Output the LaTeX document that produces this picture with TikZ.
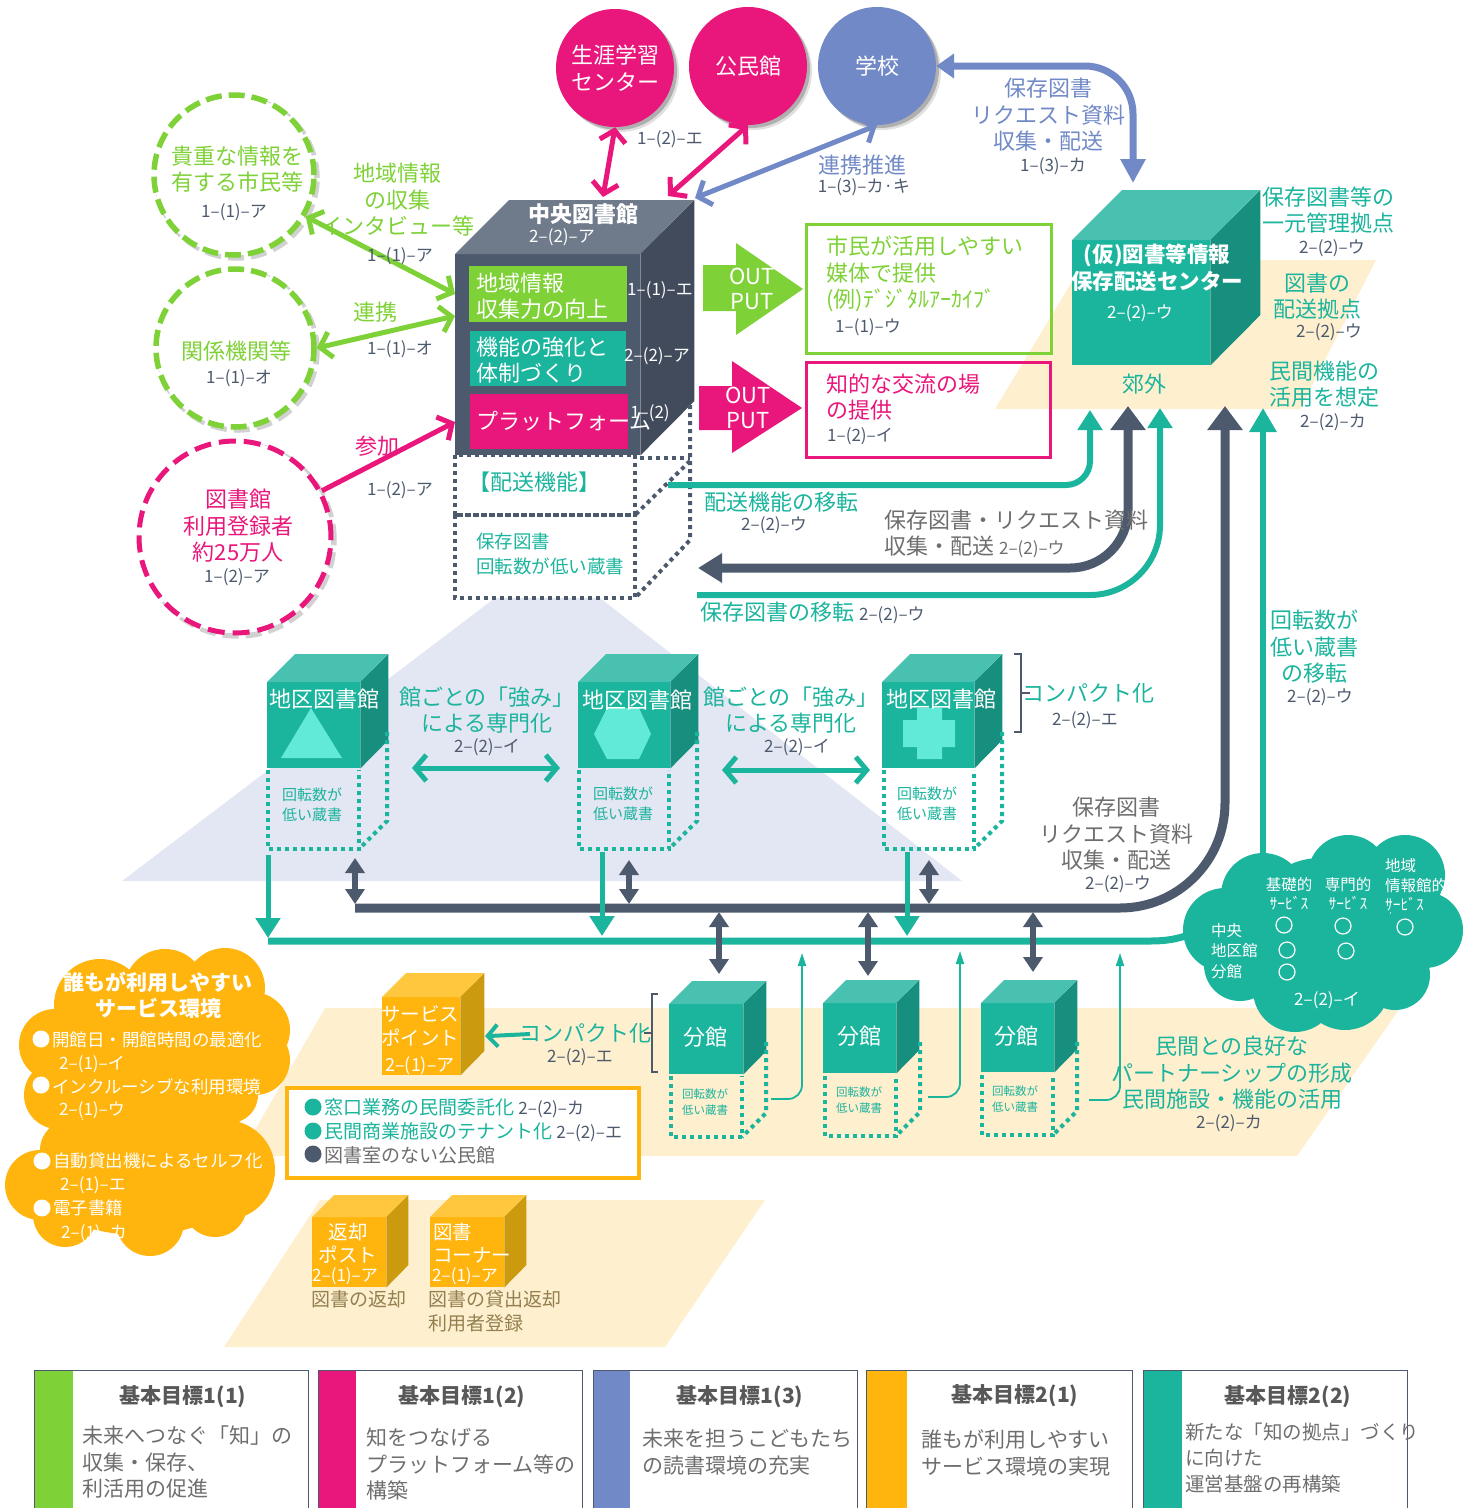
\documentclass[tikz,border=0pt]{standalone}
\usepackage{fontspec}
\setmainfont{Noto Sans CJK JP}
\usetikzlibrary{arrows.meta,shadows,calc}
\definecolor{mg}{HTML}{E9177B}
\definecolor{gr}{HTML}{7ED136}
\definecolor{bl}{HTML}{7189C6}
\definecolor{te}{HTML}{1BB49D}
\definecolor{tetop}{HTML}{48C1B0}
\definecolor{teside}{HTML}{168F7E}
\definecolor{sl}{HTML}{4D5A6E}
\definecolor{sltop}{HTML}{6F7A8A}
\definecolor{slside}{HTML}{414B5B}
\definecolor{ye}{HTML}{FFB50D}
\definecolor{yetop}{HTML}{FFC73E}
\definecolor{yeside}{HTML}{CC9A0E}
\definecolor{pe}{HTML}{FEEFCF}
\definecolor{lav}{HTML}{E3E6F3}
\definecolor{mint}{HTML}{60EAD7}
\definecolor{tgr}{HTML}{6E6E6E}
\definecolor{brn}{HTML}{94804F}
\newcommand\fsz[2]{\fontsize{#1}{#2}\selectfont}
\tikzset{
  tx/.style={inner sep=0pt,align=center},
  big/.style={tx,font=\fsz{22}{26.5}},
  mid/.style={tx,font=\fsz{20}{26}},
  ref/.style={tx,font=\fsz{17}{20},text=sl},
  lft/.style={anchor=west,align=left},
  softshadow/.style={general shadow={shadow xshift=5pt,shadow yshift=-5pt,fill=black,opacity=.12},
                     general shadow={shadow xshift=3pt,shadow yshift=-3pt,fill=black,opacity=.22}},
  solidc/.style={circle,inner sep=0pt,text=white,align=center,font=\fsz{22}{26.5},softshadow},
  dashc/.style={circle,inner sep=0pt,align=center,fill=white,line width=5.5pt,
     general shadow={shadow xshift=3pt,shadow yshift=-3pt,fill=none,draw=black,opacity=.18,line width=5.5pt,dash pattern=on 16pt off 7pt},
     dash pattern=on 16pt off 7pt},
  dbl/.style={line width=5pt,{Straight Barb[length=11pt,width=26pt]}-{Straight Barb[length=11pt,width=26pt]}},
  sgl/.style={line width=5pt,-{Straight Barb[length=11pt,width=26pt]}},
  sldbl/.style={line width=6pt,draw=sl,{Triangle[length=15pt,width=19pt]}-{Triangle[length=15pt,width=19pt]}},
  tedown/.style={line width=5pt,draw=te,-{Triangle[length=20pt,width=24pt]}},
  thinup/.style={line width=1.8pt,draw=te,-{Triangle[length=13pt,width=8pt]},rounded corners=14pt},
  dots/.style={line width=4pt,dash pattern=on 4pt off 4pt},
  legend/.style={draw=sl,line width=1pt},
  ltitle/.style={tx,font=\bfseries\fsz{21}{26},text=tgr!80!black},
  lbody/.style={tx,lft,font=\fsz{21}{26.6},text=tgr},
}
\newcommand\cube[9]{%
  \node[rectangle,fill=#7,inner sep=0pt,minimum width=#4pt,minimum height=#5pt,anchor=north west] (#1) at (#2,#3) {};
  \fill[#8] (#1.north west) -- ++(#6,-#6) -- ++(#4,0) -- (#1.north east) -- cycle;
  \fill[#9] (#1.north east) -- ++(#6,-#6) -- ++(0,#5) -- (#1.south east) -- cycle;
}
% x, top y, w, bottom y, depth, side-start y
\newcommand\dotfr[7]{%
  \draw[dots,draw=#7] (#1,#2) -- (#1,#4) -- (#1+#3,#4) -- (#1+#3,#2);
  \draw[dots,draw=#7] (#1+#3+#5,#6) -- (#1+#3+#5,#4-#5) -- (#1+#3,#4);
}
\begin{document}
\begin{tikzpicture}[x=1pt,y=-1pt]
\useasboundingbox (0,0) rectangle (1475,1508);
% ---- ground shapes
\fill[lav] (122,881) -- (962,881) -- (600,598) -- (495,598) -- cycle;
\fill[pe] (995,409) -- (1085,260) -- (1376,260) -- (1300,409) -- cycle;
\fill[pe] (325,1008) -- (1400,1008) -- (1297,1156) -- (240,1156) -- cycle;
\fill[pe] (320,1200) -- (765,1200) -- (665,1347) -- (224,1347) -- cycle;

% ---- top circles
\node[solidc,fill=mg,minimum size=118pt] (lifelong) at (615,68) {生涯学習\\センター};
\node[solidc,fill=mg,minimum size=118pt] (kominkan) at (748,66) {公民館};
\node[solidc,fill=bl,minimum size=118pt] (school) at (877,66) {学校};

% ---- dashed circles
\node[dashc,draw=gr,minimum size=160pt] (citizen) at (234,175) {};
\node[big,text=gr] (citizenT) at (237,169) {貴重な情報を\\有する市民等};
\node[ref] (citizenR) at (234,212) {1–(1)–ア};
\node[dashc,draw=gr,minimum size=158pt] (agency) at (235,348) {};
\node[big,text=gr] (agencyT) at (236,351) {関係機関等};
\node[ref] (agencyR) at (239,378) {1–(1)–オ};
\node[dashc,draw=mg,line width=5pt,minimum size=192pt,dash pattern=on 17pt off 8pt] (users) at (235,537) {};
\node[big,text=mg] (usersT) at (238,526) {図書館\\利用登録者\\約25万人};
\node[ref] (usersR) at (237,577) {1–(2)–ア};

% ---- central library
\cube{central}{455}{254}{185}{201}{54}{sl}{sltop}{slside}
\node[rectangle,fill=gr,anchor=north west,minimum width=158pt,minimum height=56pt,inner sep=0pt] (fn1) at (469,266) {};
\node[rectangle,fill=te,anchor=north west,minimum width=156pt,minimum height=55pt,inner sep=0pt] (fn2) at (470,331) {};
\node[rectangle,fill=mg,anchor=north west,minimum width=158pt,minimum height=55pt,inner sep=0pt] (fn3) at (470,394) {};
\node[tx,font=\bfseries\fsz{22}{26},text=white] (centralT) at (583,214) {中央図書館};
\node[tx,font=\fsz{17}{20},text=white] (centralR) at (562,237) {2–(2)–ア};
\node[big,lft,text=white] (fn1T) at (476,296) {地域情報\\収集力の向上};
\node[big,lft,text=white] (fn2T) at (476,360) {機能の強化と\\体制づくり};
\node[big,lft,text=white] (fn3T) at (476,421) {プラットフォーム};
\node[tx,font=\fsz{17}{20},text=white] (fn1R) at (660,290) {1–(1)–エ};
\node[tx,font=\fsz{17}{20},text=white] (fn2R) at (657,356) {2–(2)–ア};
\node[tx,font=\fsz{17}{20},text=white] (fn3R) at (650,413) {1–(2)};

% dotted storage under central
\draw[dots,draw=sl] (455,455) rectangle (635,515);
\draw[dots,draw=sl] (455,515) rectangle (635,598);
\draw[dots,draw=sl] (640,458) -- (690,458);
\draw[dots,draw=sl] (690,405) -- (690,540) -- (635,598);
\draw[dots,draw=sl] (690,461) -- (635,515);
\node[big,anchor=west,text=te] (deliv) at (468,482) {【配送機能】};
\node[tx,lft,font=\fsz{18.5}{24.5},text=te] (stored) at (476,554) {保存図書\\回転数が低い蔵書};

% ---- arrows of the left side and top
\coordinate (inA) at (455,294);
\coordinate (inB) at (455,316);
\coordinate (inC) at (455,422);
\coordinate (inD) at (603,197);
\coordinate (inE) at (668,196);
\coordinate (inF) at (695,198);
\draw[dbl,draw=gr] (citizen.-30) -- (inA);
\draw[dbl,draw=gr] (agency.0) -- (inB);
\draw[sgl,draw=mg] (users.28) -- (inC);
\draw[dbl,draw=mg] (lifelong.south) -- (inD);
\draw[dbl,draw=mg] (kominkan.south) -- (inE);
\draw[dbl,draw=bl] (school.south) -- (inF);

\node[big,text=gr] (t1) at (397,200) {地域情報\\の収集\\インタビュー等};
\node[ref] (t2) at (400,256) {1–(1)–ア};
\node[big,text=gr] (t3) at (375,312) {連携};
\node[ref] (t4) at (400,349) {1–(1)–オ};
\node[big,text=mg] (t5) at (377,446) {参加};
\node[ref] (t6) at (400,490) {1–(2)–ア};
\node[ref] (t7) at (670,139) {1–(2)–エ};
\node[big,text=bl] (t8) at (862,165) {連携推進};
\node[ref] (t9) at (864,187) {1–(3)–カ·キ};
\node[big,text=bl] (t10) at (1048,115) {保存図書\\リクエスト資料\\収集・配送};
\node[ref] (t11) at (1053,166) {1–(3)–カ};

% ---- outputs
\coordinate (og) at (703,265);
\fill[gr] (703,265) -- (736,265) -- (736,243) -- (803,289) -- (736,335) -- (736,311) -- (703,311) -- cycle;
\node[tx,font=\fsz{22}{25},text=white] (ogT) at (752,289) {OUT\\PUT};
\fill[mg] (699,386) -- (732,386) -- (732,361) -- (802,408) -- (732,453) -- (732,430) -- (699,430) -- cycle;
\node[tx,font=\fsz{22}{25},text=white] (omT) at (748,408) {OUT\\PUT};
\node[rectangle,draw=gr,line width=3pt,anchor=north west,minimum width=245pt,minimum height=129pt,inner sep=0pt] (outG) at (805,223) {};
\node[rectangle,draw=mg,line width=3pt,anchor=north west,minimum width=244pt,minimum height=95pt,inner sep=0pt] (outM) at (805,361) {};
\node[big,lft,text=gr] (outGT) at (826,274) {市民が活用しやすい\\媒体で提供\\(例)ﾃﾞｼﾞﾀﾙｱｰｶｲﾌﾞ};
\node[ref,anchor=west] (outGR) at (835,327) {1–(1)–ウ};
\node[big,lft,text=mg] (outMT) at (826,397) {知的な交流の場\\の提供};
\node[ref,anchor=west] (outMR) at (827,436) {1–(2)–イ};

% ---- storage centre
\cube{center}{1072}{240}{138}{125}{50}{te}{tetop}{teside}
\node[tx,font=\bfseries\fsz{21.5}{27},text=white] (centerT) at (1157,268) {(仮)図書等情報\\保存配送センター};
\node[tx,font=\fsz{17}{20},text=white] (centerR) at (1140,313) {2–(2)–ウ};
\node[big,text=te] (sub) at (1144,384) {郊外};
\node[big,text=te] (r1) at (1328,210) {保存図書等の\\一元管理拠点};
\node[ref] (r2) at (1332,248) {2–(2)–ウ};
\node[big,text=te] (r3) at (1317,296) {図書の\\配送拠点};
\node[ref] (r4) at (1329,332) {2–(2)–ウ};
\node[big,text=te] (r5) at (1324,384) {民間機能の\\活用を想定};
\node[ref] (r6) at (1333,422) {2–(2)–カ};

% ---- blue link school <-> centre
\coordinate (cTop) at (1133,183);
\draw[line width=7pt,draw=bl,rounded corners=48pt,{Triangle[length=18pt,width=24pt]}-{Triangle[length=24pt,width=24pt]}] (school.east) -| (cTop);

% ---- routes to the centre
\coordinate (r1s) at (668,485);
\coordinate (r1e) at (1090,410);
\coordinate (r2s) at (698,568);
\coordinate (r2e) at (1128,406);
\coordinate (r3s) at (697,595);
\coordinate (r3e) at (1160,408);
\coordinate (r4s) at (355,908);
\coordinate (r4e) at (1225,406);
\coordinate (r5s) at (1263,870);
\coordinate (r5e) at (1263,408);
\draw[line width=6pt,draw=te,rounded corners=24pt,-{Triangle[length=20pt,width=24pt]}] (r1s) -| (r1e);
\draw[line width=9pt,draw=sl,rounded corners=58pt,{Triangle[length=24pt,width=28pt]}-{Triangle[length=24pt,width=34pt]}] (r2s) -| (r2e);
\draw[line width=6pt,draw=te,rounded corners=70pt,-{Triangle[length=20pt,width=24pt]}] (r3s) -| (r3e);
\draw[line width=9pt,draw=sl,rounded corners=105pt,-{Triangle[length=24pt,width=34pt]}] (r4s) -| (r4e);
\draw[line width=6pt,draw=te,-{Triangle[length=24pt,width=26pt]}] (r5s) -- (r5e);
\node[big,text=te] (m1) at (781,502) {配送機能の移転};
\node[ref] (m2) at (774,525) {2–(2)–ウ};
\node[big,lft,text=tgr] (m3) at (884,534) {保存図書・リクエスト資料\\収集・配送 {\fsz{17}{20}2–(2)–ウ}};
\node[big,anchor=west,text=te] (m4) at (700,613) {保存図書の移転 {\fsz{17}{20}\color{sl}2–(2)–ウ}};

% ---- district libraries
\cube{dist1}{267}{682}{93}{86}{28}{te}{tetop}{teside}
\cube{dist2}{578}{682}{92}{86}{28}{te}{tetop}{teside}
\cube{dist3}{882}{682}{92}{86}{28}{te}{tetop}{teside}
\fill[mint] (311,708) -- (342,758) -- (281,758) -- cycle;
\fill[mint] (607,708) -- (639,708) -- (651,734) -- (639,759) -- (607,759) -- (594,734) -- cycle;
\fill[mint] (917,708) -- (942,708) -- (942,720) -- (955,720) -- (955,747) -- (942,747) -- (942,759) -- (917,759) -- (917,747) -- (903,747) -- (903,720) -- (917,720) -- cycle;
\node[big,text=white] (d1T) at (324,699) {地区図書館};
\node[big,text=white] (d2T) at (637,700) {地区図書館};
\node[big,text=white] (d3T) at (941,699) {地区図書館};
\dotfr{268}{770}{91}{849}{28}{732}{te}
\dotfr{579}{770}{90}{849}{28}{732}{te}
\dotfr{884}{770}{90}{849}{28}{732}{te}
\node[tx,font=\fsz{15}{20},text=te] (d1L) at (312,805) {回転数が\\低い蔵書};
\node[tx,font=\fsz{15}{20},text=te] (d2L) at (623,804) {回転数が\\低い蔵書};
\node[tx,font=\fsz{15}{20},text=te] (d3L) at (927,804) {回転数が\\低い蔵書};
\node[big,text=te] (sp1) at (487,710) {館ごとの「強み」\\による専門化};
\node[ref] (sp1R) at (487,747) {2–(2)–イ};
\node[big,text=te] (sp2) at (791,710) {館ごとの「強み」\\による専門化};
\node[ref] (sp2R) at (797,747) {2–(2)–イ};
\coordinate (s1a) at (412,768);
\coordinate (s1b) at (560,768);
\coordinate (s2a) at (722,770);
\coordinate (s2b) at (870,770);
\draw[dbl,draw=te] (s1a) -- (s1b);
\draw[dbl,draw=te] (s2a) -- (s2b);
\draw[line width=2pt,draw=sl] (1014,654) -- (1021,654) -- (1021,732) -- (1014,732);
\draw[line width=2pt,draw=sl] (1021,693) -- (1030,693);
\node[big,text=te] (cp1) at (1088,693) {コンパクト化};
\node[ref] (cp1R) at (1085,720) {2–(2)–エ};
\node[big,text=te] (mv) at (1314,647) {回転数が\\低い蔵書\\の移転};
\node[ref] (mvR) at (1320,697) {2–(2)–ウ};
\node[big,text=tgr] (col) at (1116,834) {保存図書\\リクエスト資料\\収集・配送};
\node[ref] (colR) at (1118,884) {2–(2)–ウ};

% ---- teal cloud
\fill[te] (1263,895) circle (42) (1348,875) circle (40) (1405,875) circle (40) (1425,930) circle (38)
  (1395,975) circle (35) (1345,985) circle (45) (1295,990) circle (42) (1240,965) circle (36)
  (1225,930) circle (42) (1320,930) circle (72);
\node[tx,font=\fsz{15.5}{19},text=white] (c1) at (1289,894) {基礎的\\ｻｰﾋﾞｽ};
\node[tx,font=\fsz{15.5}{19},text=white] (c2) at (1348,894) {専門的\\ｻｰﾋﾞｽ};
\node[tx,lft,font=\fsz{15.5}{19.5},text=white] (c3) at (1385,885) {地域\\情報館的\\ｻｰﾋﾞｽ};
\node[tx,lft,font=\fsz{15.5}{20.5},text=white] (c4) at (1211,951) {中央\\地区館\\分館};
\node[tx,font=\fsz{17}{20},text=white] (c5) at (1327,1000) {2–(2)–イ};
\foreach \n/\cx/\cy in {o1/1284/925,o2/1343/926,o3/1405/927,o4/1287/950,o5/1346/951,o6/1287/972}
  \node[circle,draw=white,line width=1.2pt,minimum size=16pt,inner sep=0pt] (\n) at (\cx,\cy) {};

% ---- main distribution lines
\coordinate (bus1) at (268,941);
\coordinate (bus2) at (1205,928);
\draw[line width=7pt,draw=te] (bus1) -- (1150,941) to[out=0,in=205] (bus2);
\coordinate (v1) at (268,855);
\coordinate (v1e) at (268,938);
\coordinate (v2) at (602,852);
\coordinate (v2e) at (602,936);
\coordinate (v3) at (907,852);
\coordinate (v3e) at (907,936);
\draw[tedown] (v1) -- (v1e);
\draw[tedown] (v2) -- (v2e);
\draw[tedown] (v3) -- (v3e);
\coordinate (w1) at (355,858);
\coordinate (w1e) at (355,904);
\coordinate (w2) at (629,860);
\coordinate (w2e) at (629,904);
\coordinate (w3) at (929,860);
\coordinate (w3e) at (929,904);
\draw[sldbl] (w1) -- (w1e);
\draw[sldbl] (w2) -- (w2e);
\draw[sldbl] (w3) -- (w3e);

% ---- branch libraries
\cube{br1}{669}{1004}{74}{70}{23}{te}{tetop}{teside}
\cube{br2}{823}{1003}{73}{70}{23}{te}{tetop}{teside}
\cube{br3}{981}{1003}{73}{69}{23}{te}{tetop}{teside}
\node[big,text=white] (b1T) at (705,1037) {分館};
\node[big,text=white] (b2T) at (859,1036) {分館};
\node[big,text=white] (b3T) at (1016,1036) {分館};
\dotfr{671}{1076}{71}{1137}{24}{1042}{te}
\dotfr{825}{1076}{71}{1136}{24}{1042}{te}
\dotfr{982}{1075}{71}{1135}{24}{1042}{te}
\node[tx,font=\fsz{11.5}{16},text=te] (b1L) at (705,1102) {回転数が\\低い蔵書};
\node[tx,font=\fsz{11.5}{16},text=te] (b2L) at (859,1100) {回転数が\\低い蔵書};
\node[tx,font=\fsz{11.5}{16},text=te] (b3L) at (1015,1099) {回転数が\\低い蔵書};
\coordinate (up1) at (802,953);
\coordinate (up2) at (960,951);
\coordinate (up3) at (1120,953);
\coordinate (ub1) at (771,1099);
\coordinate (ub2) at (928,1097);
\coordinate (ub3) at (1089,1100);
\draw[thinup] (ub1) -| (up1);
\draw[thinup] (ub2) -| (up2);
\draw[thinup] (ub3) -| (up3);
\coordinate (x1) at (719,912);
\coordinate (x2) at (868,912);
\coordinate (x3) at (1033,912);
\coordinate (x1e) at (719,974);
\coordinate (x2e) at (868,976);
\coordinate (x3e) at (1033,972);
\draw[sldbl] (x1) -- (x1e);
\draw[sldbl] (x2) -- (x2e);
\draw[sldbl] (x3) -- (x3e);
\draw[line width=2pt,draw=sl] (658,994) -- (652,994) -- (652,1072) -- (658,1072);
\draw[line width=2pt,draw=sl] (652,1033) -- (644,1033);
\node[big,text=te] (cp2) at (585,1033) {コンパクト化};
\node[ref] (cp2R) at (580,1057) {2–(2)–エ};
\node[big,text=te] (pp) at (1232,1073) {民間との良好な\\パートナーシップの形成\\民間施設・機能の活用};
\node[ref] (ppR) at (1229,1123) {2–(2)–カ};

% ---- yellow cubes
\cube{sp}{382}{997}{78}{78}{24}{ye}{yetop}{yeside}
\node[tx,font=\fsz{19.5}{24},text=white] (spT) at (420,1026) {サービス\\ポイント};
\node[ref,text=white,font=\fsz{18}{20}] (spR) at (420,1066) {2–(1)–ア};
\coordinate (spArrow) at (530,1034);
\draw[line width=4pt,draw=te,-{Straight Barb[length=10pt,width=22pt]}] (spArrow) -- (sp.east -| 485,1034);
\cube{rp}{312}{1217}{74}{70}{22}{ye}{yetop}{yeside}
\cube{cr}{430}{1217}{74}{70}{22}{ye}{yetop}{yeside}
\node[tx,font=\fsz{19.5}{22.5},text=white] (rpT) at (348,1243) {返却\\ポスト};
\node[ref,text=white,font=\fsz{17}{20}] (rpR) at (345,1276) {2–(1)–ア};
\node[tx,lft,font=\fsz{19.5}{22.5},text=white] (crT) at (433,1243) {図書\\コーナー};
\node[ref,text=white,font=\fsz{17}{20}] (crR) at (465,1276) {2–(1)–ア};
\node[tx,font=\fsz{19}{24},text=brn] (rpL) at (359,1299) {図書の返却};
\node[tx,lft,font=\fsz{19}{24},text=brn] (crL) at (428,1311) {図書の貸出返却\\利用者登録};

% ---- info box
\node[rectangle,draw=ye,line width=4pt,fill=white,anchor=north west,minimum width=352pt,minimum height=90pt,inner sep=0pt] (info) at (285,1086) {};
\foreach \n/\yy/\cc in {i1/1107/te,i2/1131/te,i3/1154/sl}
  \fill[\cc] (313,\yy) circle (8.5);
\node[tx,anchor=west,font=\fsz{19}{22},text=te] (i1) at (324,1108) {窓口業務の民間委託化 {\fsz{17}{20}\color{sl}2–(2)–カ}};
\node[tx,anchor=west,font=\fsz{19}{22},text=te] (i2) at (324,1132) {民間商業施設のテナント化 {\fsz{17}{20}\color{sl}2–(2)–エ}};
\node[tx,anchor=west,font=\fsz{19}{22},text=tgr] (i3) at (324,1155) {図書室のない公民館};

% ---- yellow cloud
\fill[ye] (100,1005) circle (46) (165,990) circle (41) (225,988) circle (40) (252,1030) circle (38)
  (255,1060) circle (35) (55,1045) circle (36) (58,1095) circle (34) (230,1095) circle (28)
  (150,1060) ellipse (110 and 75)
  (75,1120) -- (240,1120) -- (232,1155) -- (70,1155) -- cycle
  (70,1150) circle (30) (225,1170) circle (50) (170,1150) circle (35) (40,1185) circle (35)
  (65,1215) circle (32) (150,1222) circle (34) (215,1205) circle (32) (140,1185) ellipse (100 and 50);
\node[tx,font=\bfseries\fsz{21}{26},text=white] (yT) at (158,995) {誰もが利用しやすい\\サービス環境};
\foreach \n/\xx/\yy in {ya/41/1039,yb/41/1085,yc/42/1161,yd/42/1208}
  \fill[white] (\xx,\yy) circle (8.5);
\node[tx,anchor=west,font=\fsz{17.5}{20},text=white] (y1) at (52,1040) {開館日・開館時間の最適化};
\node[ref,text=white] (y1R) at (92,1064) {2–(1)–イ};
\node[tx,anchor=west,font=\fsz{17.5}{20},text=white] (y2) at (52,1087) {インクルーシブな利用環境};
\node[ref,text=white] (y2R) at (92,1110) {2–(1)–ウ};
\node[tx,anchor=west,font=\fsz{17.5}{20},text=white] (y3) at (53,1161) {自動貸出機によるセルフ化};
\node[ref,text=white] (y3R) at (93,1185) {2–(1)–エ};
\node[tx,anchor=west,font=\fsz{17.5}{20},text=white] (y4) at (53,1208) {電子書籍};
\node[ref,text=white] (y4R) at (94,1233) {2–(1)–カ};

% ---- legend
\foreach \a/\b/\c/\cc in {34/73/308/gr,318/356/582/mg,593/630/857/bl,866/907/1132/ye,1143/1182/1407/te}{
  \fill[\cc] (\a,1370) rectangle (\b,1508);
  \draw[legend] (\a,1508) -- (\a,1370) -- (\c,1370) -- (\c,1508);
}
\node[ltitle] (L1) at (183,1397) {基本目標1(1)};
\node[lbody] (L1b) at (82,1462) {未来へつなぐ「知」の\\収集・保存、\\利活用の促進};
\node[ltitle] (L2) at (462,1397) {基本目標1(2)};
\node[lbody] (L2b) at (366,1464) {知をつなげる\\プラットフォーム等の\\構築};
\node[ltitle] (L3) at (740,1397) {基本目標1(3)};
\node[lbody] (L3b) at (642,1452) {未来を担うこどもたち\\の読書環境の充実};
\node[ltitle] (L4) at (1015,1396) {基本目標2(1)};
\node[lbody] (L4b) at (921,1453) {誰もが利用しやすい\\サービス環境の実現};
\node[ltitle] (L5) at (1288,1397) {基本目標2(2)};
\node[lbody,font=\fsz{19.5}{26}] (L5b) at (1185,1458) {新たな「知の拠点」づくり\\に向けた\\運営基盤の再構築};
\end{tikzpicture}
\end{document}
